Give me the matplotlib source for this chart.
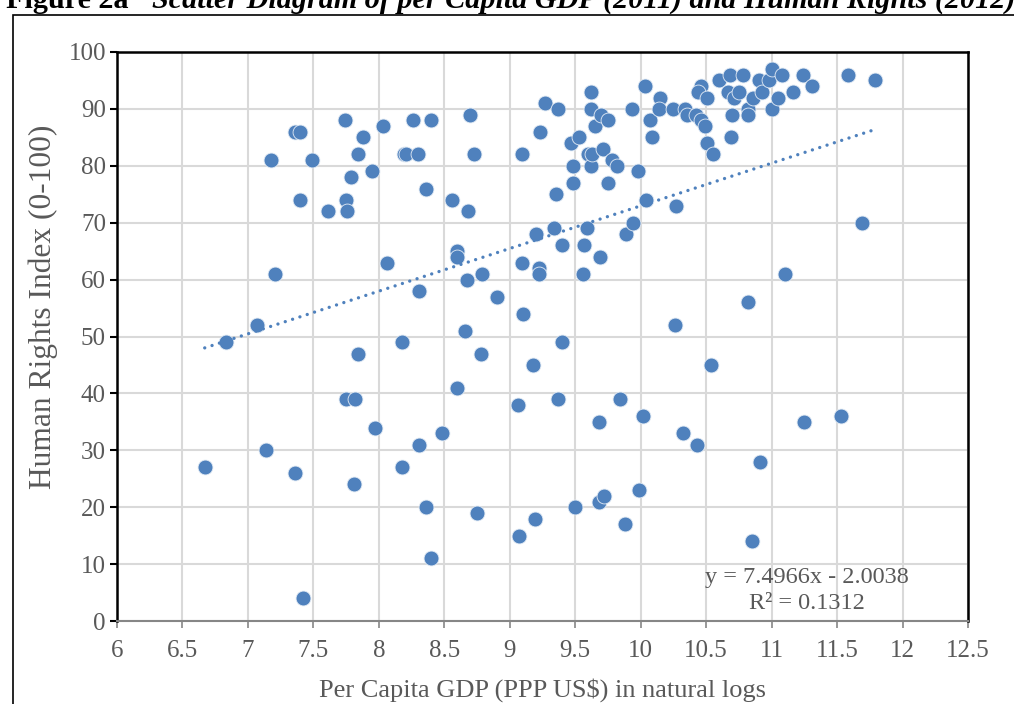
import numpy as np
import matplotlib
matplotlib.use("Agg")
import matplotlib.pyplot as plt
from matplotlib.patches import Rectangle

# 人均GDP(自然对数)与人权指数
gdp_log = [6.67, 6.83, 7.07, 7.14, 7.18, 7.21, 7.36, 7.40, 7.40, 7.36, 7.42, 7.49,
           7.61, 7.74, 7.75, 7.76, 7.75, 7.79, 7.81, 7.82, 7.84, 7.84, 7.88, 7.95,
           7.97, 8.03, 8.06, 8.19, 8.21, 8.18, 8.18, 8.26, 8.30, 8.31, 8.31, 8.36,
           8.36, 8.40, 8.40, 8.48, 8.56, 8.60, 8.60, 8.60, 8.68, 8.67, 8.66, 8.70,
           8.73, 8.75, 8.79, 8.78, 8.90, 9.06, 9.07, 9.09, 9.09, 9.10, 9.20, 9.18,
           9.19, 9.23, 9.22, 9.22, 9.27, 9.35, 9.34, 9.37, 9.37, 9.40, 9.40, 9.47,
           9.48, 9.48, 9.50, 9.53, 9.56, 9.57, 9.59, 9.60, 9.62, 9.62, 9.62, 9.63,
           9.65, 9.68, 9.68, 9.72, 9.69, 9.71, 9.70, 9.75, 9.75, 9.78, 9.82, 9.84,
           9.88, 9.89, 9.93, 9.94, 9.98, 9.99, 10.02, 10.03, 10.04, 10.07, 10.09,
           10.15, 10.14, 10.25, 10.27, 10.26, 10.32, 10.34, 10.35, 10.42, 10.43,
           10.46, 10.46, 10.44, 10.49, 10.51, 10.51, 10.55, 10.54, 10.60, 10.68,
           10.67, 10.69, 10.70, 10.71, 10.75, 10.78, 10.82, 10.82, 10.82, 10.86,
           10.85, 10.90, 10.91, 10.93, 10.98, 11.00, 11.00, 11.05, 11.08, 11.10,
           11.16, 11.24, 11.25, 11.31, 11.53, 11.58, 11.69, 11.79]
hri = [27, 49, 52, 30, 81, 61, 86, 86, 74, 26, 4, 81,
       72, 88, 74, 72, 39, 78, 24, 39, 82, 47, 85, 79,
       34, 87, 63, 82, 82, 49, 27, 88, 82, 58, 31, 76,
       20, 88, 11, 33, 74, 65, 64, 41, 72, 60, 51, 89,
       82, 19, 61, 47, 57, 38, 15, 82, 63, 54, 68, 45,
       18, 86, 62, 61, 91, 75, 69, 39, 90, 66, 49, 84,
       80, 77, 20, 85, 61, 66, 69, 82, 93, 90, 80, 82,
       87, 35, 21, 22, 64, 83, 89, 88, 77, 81, 80, 39,
       17, 68, 90, 70, 79, 23, 36, 94, 74, 88, 85,
       92, 90, 90, 73, 52, 33, 90, 89, 89, 31,
       88, 94, 93, 87, 92, 84, 82, 45, 95, 96,
       93, 85, 89, 92, 93, 96, 90, 89, 56, 92,
       14, 95, 28, 93, 95, 97, 90, 92, 96, 61,
       93, 96, 35, 94, 36, 96, 70, 95]

slope, intercept = 7.4966, -2.0038
x_ticks = [6, 6.5, 7, 7.5, 8, 8.5, 9, 9.5, 10, 10.5, 11, 11.5, 12, 12.5]
y_ticks = [0, 10, 20, 30, 40, 50, 60, 70, 80, 90, 100]

plt.rcParams['font.family'] = ['Liberation Serif', 'DejaVu Serif']
blue = '#4F81BD'
txt = '#595959'

fig = plt.figure(figsize=(10.14, 7.04), dpi=100)
ax = fig.add_axes([117/1014, 1-621/704, (968-117)/1014, (621-52)/704])

# 外框
fig.patches.append(Rectangle((13/1014, -0.05), 1.2, 1-15/704+0.05, transform=fig.transFigure,
                             fill=False, edgecolor='black', linewidth=1.2))
# 标题(原图上方被截掉一半)
fig.text(0.006, 1-8/704, 'Figure 2a', fontsize=21.7, fontweight='bold', va='baseline', ha='left')
fig.text(152/1014, 1-8/704, 'Scatter Diagram of per Capita GDP (2011) and Human Rights (2012)',
         fontsize=21.7, fontweight='bold', fontstyle='italic', va='baseline', ha='left')

ax.scatter(gdp_log, hri, s=115, color=blue, edgecolor='#E4ECF5', linewidth=0.6, zorder=3)

xs = np.array([min(gdp_log), max(gdp_log)])
ax.plot(xs, slope*xs + intercept, color=blue, linewidth=2.4,
        linestyle=(0, (0.01, 2.3)), dash_capstyle='round', zorder=4)

ax.text(11.27, 5.4, 'y = 7.4966x - 2.0038\nR² = 0.1312', ha='center', va='center',
        fontsize=17.5, color=txt, linespacing=1.3, zorder=5)

ax.set_xlim(6, 12.5)
ax.set_ylim(0, 100)
ax.set_xticks(x_ticks)
ax.set_xticklabels([f'{v:g}' for v in x_ticks])
ax.set_yticks(y_ticks)
ax.grid(True, color='#D9D9D9', linewidth=1.5, zorder=0)
ax.set_axisbelow(True)

for s in ['left', 'top', 'right']:
    ax.spines[s].set_color('black')
    ax.spines[s].set_linewidth(1.8)
ax.spines['bottom'].set_color('#868686')
ax.spines['bottom'].set_linewidth(1.5)

ax.tick_params(axis='y', direction='out', length=5, width=1.5, color='black',
               labelsize=18, labelcolor=txt, pad=3)
ax.tick_params(axis='x', direction='out', length=5, width=1.2, color='#868686',
               labelsize=18, labelcolor=txt, pad=9)

ax.set_xlabel('Per Capita GDP (PPP US$) in natural logs', fontsize=19, color=txt, labelpad=11)
ax.set_ylabel('Human Rights Index (0-100)', fontsize=22.7, color=txt)
ax.yaxis.set_label_coords(-0.069, (621-307)/569)

fig.savefig('out.png', dpi=100)
